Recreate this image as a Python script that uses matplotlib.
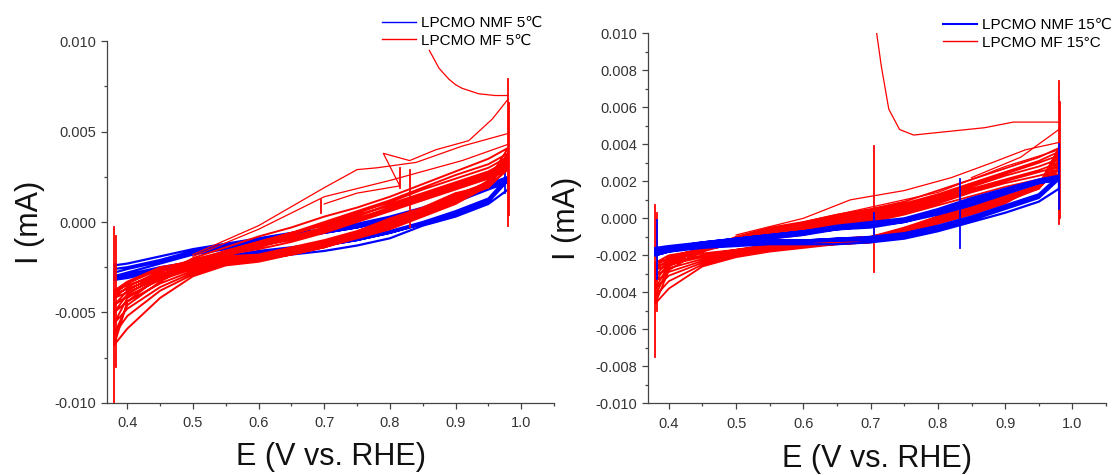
import numpy as np
import matplotlib.pyplot as plt
from matplotlib.lines import Line2D
from matplotlib.ticker import MultipleLocator, FormatStrFormatter

plt.rcParams['font.family'] = ['Liberation Sans', 'DejaVu Sans']
plt.rcParams['axes.unicode_minus'] = False

# potential grid (V vs. RHE), currents below are in 1e-3 mA
E = [0.38, 0.40, 0.45, 0.50, 0.55, 0.60, 0.65, 0.70, 0.75, 0.80, 0.85, 0.90, 0.95, 0.98]

# ---- 5 C ----
mf5_up = [
    [-6.8, -4.4, -3.0, -2.0, -1.4, -0.8, -0.3, 0.3, 0.8, 1.4, 2.1, 2.8, 3.5, 4.1],
    [-6.2, -4.6, -3.3, -2.3, -1.6, -1.1, -0.6, 0.0, 0.6, 1.2, 1.9, 2.6, 3.2, 3.8],
    [-5.6, -4.2, -3.1, -2.2, -1.7, -1.2, -0.7, -0.1, 0.5, 1.1, 1.8, 2.4, 3.0, 3.6],
    [-5.0, -4.0, -2.9, -2.4, -1.9, -1.3, -0.8, -0.3, 0.3, 1.0, 1.6, 2.2, 2.8, 3.4],
    [-4.6, -3.8, -2.8, -2.1, -1.6, -1.1, -0.6, -0.2, 0.4, 0.9, 1.5, 2.1, 2.7, 3.2],
    [-4.2, -3.6, -2.7, -2.3, -1.8, -1.4, -0.9, -0.4, 0.2, 0.8, 1.4, 2.0, 2.6, 3.1],
    [-4.0, -3.4, -2.6, -2.1, -1.7, -1.3, -1.0, -0.5, 0.1, 0.7, 1.3, 1.9, 2.5, 3.0],
    [-3.8, -3.3, -2.5, -2.2, -1.8, -1.5, -1.1, -0.6, 0.0, 0.6, 1.2, 1.8, 2.4, 2.9],
]
mf5_down = [
    [-6.8, -5.9, -4.2, -3.0, -2.4, -2.2, -1.8, -1.4, -0.8, -0.2, 0.5, 1.2, 2.3, 4.1],
    [-6.2, -5.2, -3.8, -2.9, -2.3, -2.1, -1.7, -1.3, -0.8, -0.3, 0.4, 1.1, 2.2, 3.8],
    [-5.6, -4.8, -3.6, -2.8, -2.3, -2.1, -1.8, -1.4, -0.9, -0.4, 0.3, 1.0, 2.0, 3.6],
    [-5.0, -4.4, -3.4, -2.7, -2.2, -2.0, -1.6, -1.2, -0.7, -0.1, 0.5, 1.3, 2.0, 3.4],
    [-4.6, -4.1, -3.2, -2.6, -2.1, -2.0, -1.6, -1.2, -0.7, 0.0, 0.6, 1.4, 2.1, 3.2],
    [-4.2, -3.9, -3.1, -2.5, -2.0, -1.9, -1.5, -1.1, -0.6, 0.1, 0.7, 1.5, 2.2, 3.1],
    [-4.0, -3.7, -3.0, -2.4, -2.0, -1.9, -1.5, -1.1, -0.6, 0.0, 0.6, 1.3, 1.9, 3.0],
    [-3.8, -3.5, -2.9, -2.4, -1.9, -1.8, -1.4, -1.0, -0.5, 0.2, 0.8, 1.6, 2.0, 2.9],
]
nmf5_up = [
    [-2.4, -2.3, -1.9, -1.5, -1.2, -0.9, -0.6, -0.4, -0.1, 0.3, 0.8, 1.4, 2.1, 2.5],
    [-2.6, -2.5, -2.1, -1.6, -1.3, -1.0, -0.7, -0.5, -0.2, 0.2, 0.7, 1.3, 2.0, 2.4],
    [-2.8, -2.6, -2.2, -1.7, -1.4, -1.1, -0.8, -0.6, -0.3, 0.1, 0.6, 1.2, 1.9, 2.3],
    [-3.0, -2.8, -2.3, -1.8, -1.5, -1.2, -0.9, -0.6, -0.3, 0.1, 0.5, 1.1, 1.8, 2.2],
]
nmf5_down = [
    [-3.0, -2.9, -2.5, -2.2, -1.9, -1.6, -1.4, -1.2, -0.9, -0.5, 0.0, 0.6, 1.3, 2.5],
    [-3.1, -3.0, -2.6, -2.3, -2.0, -1.7, -1.5, -1.3, -1.0, -0.6, -0.1, 0.5, 1.2, 2.4],
    [-3.2, -3.0, -2.6, -2.3, -2.0, -1.7, -1.5, -1.3, -1.0, -0.6, -0.1, 0.4, 1.1, 2.3],
    [-3.2, -3.1, -2.7, -2.4, -2.2, -1.9, -1.8, -1.6, -1.3, -0.9, -0.2, 0.3, 1.0, 1.8],
]
# single odd red traces (first sweep etc.)
mf5_extra = [
    ([0.86, 0.875, 0.89, 0.90, 0.91, 0.935, 0.96, 0.98], [9.5, 8.5, 7.9, 7.6, 7.4, 7.1, 7.0, 7.0]),
    ([0.98, 0.956, 0.92, 0.87, 0.83, 0.79, 0.815, 0.75, 0.70], [6.8, 5.7, 4.5, 4.0, 3.4, 3.8, 2.0, 1.6, 1.0]),
    ([0.50, 0.60, 0.70, 0.75, 0.78, 0.84, 0.91, 0.98], [-1.8, -0.2, 1.9, 2.9, 3.0, 3.3, 4.2, 4.9]),
    ([0.50, 0.60, 0.70, 0.80, 0.91, 0.98], [-1.9, -0.4, 1.4, 2.3, 3.4, 4.3]),
]
mf5_spikes = [(0.379, -10.0, -0.3), (0.382, -8.0, -0.8), (0.98, -0.2, 7.9), (0.982, 0.4, 6.6),
              (0.695, 0.5, 1.2), (0.815, 1.9, 3.0), (0.83, -0.3, 2.9)]
nmf5_spikes = [(0.381, -3.2, -2.3), (0.976, 1.6, 2.7)]

# ---- 15 C ----
mf15_up = [
    [-4.6, -2.8, -1.7, -1.0, -0.5, -0.2, 0.2, 0.5, 0.9, 1.5, 2.1, 2.7, 3.3, 3.8],
    [-4.2, -2.6, -1.8, -1.1, -0.6, -0.3, 0.1, 0.4, 0.8, 1.3, 1.9, 2.5, 3.1, 3.6],
    [-3.8, -2.5, -1.6, -1.2, -0.7, -0.4, 0.0, 0.3, 0.7, 1.2, 1.8, 2.4, 3.0, 3.4],
    [-3.4, -2.4, -1.7, -1.3, -0.8, -0.5, -0.1, 0.2, 0.6, 1.1, 1.7, 2.3, 2.8, 3.2],
    [-3.1, -2.3, -1.8, -1.3, -0.9, -0.6, -0.2, 0.1, 0.5, 1.0, 1.6, 2.1, 2.6, 3.0],
    [-2.8, -2.2, -1.7, -1.4, -1.0, -0.7, -0.3, 0.0, 0.4, 0.9, 1.5, 2.0, 2.5, 2.8],
    [-2.6, -2.1, -1.6, -1.3, -0.9, -0.8, -0.4, -0.1, 0.3, 0.8, 1.4, 1.9, 2.3, 2.6],
    [-2.4, -2.0, -1.7, -1.4, -1.1, -0.9, -0.5, -0.2, 0.2, 0.7, 1.2, 1.7, 2.1, 2.4],
]
mf15_down = [
    [-4.6, -3.8, -2.6, -2.1, -1.8, -1.6, -1.4, -1.3, -0.9, -0.3, 0.2, 0.8, 1.8, 3.8],
    [-4.2, -3.4, -2.5, -2.0, -1.7, -1.5, -1.4, -1.3, -0.9, -0.2, 0.3, 0.9, 1.7, 3.6],
    [-3.8, -3.1, -2.4, -2.0, -1.7, -1.5, -1.3, -1.2, -0.8, -0.2, 0.4, 1.0, 1.8, 3.4],
    [-3.4, -2.9, -2.3, -1.9, -1.6, -1.4, -1.3, -1.2, -0.7, -0.1, 0.4, 0.9, 1.6, 3.2],
    [-3.1, -2.7, -2.2, -1.8, -1.6, -1.4, -1.2, -1.1, -0.7, 0.0, 0.5, 1.0, 1.7, 3.0],
    [-2.8, -2.5, -2.1, -1.8, -1.5, -1.3, -1.2, -1.1, -0.6, 0.0, 0.6, 1.1, 1.6, 2.8],
    [-2.6, -2.4, -2.0, -1.7, -1.5, -1.3, -1.1, -1.0, -0.6, 0.1, 0.6, 1.2, 1.7, 2.6],
    [-2.4, -2.2, -1.9, -1.7, -1.4, -1.2, -1.1, -1.0, -0.5, 0.1, 0.7, 1.2, 1.8, 2.4],
]
nmf15_up = [
    [-1.6, -1.5, -1.3, -1.1, -0.9, -0.7, -0.4, -0.2, 0.0, 0.5, 1.1, 1.6, 2.1, 2.3],
    [-1.7, -1.6, -1.3, -1.1, -0.9, -0.7, -0.5, -0.3, -0.1, 0.4, 1.0, 1.5, 2.0, 2.2],
    [-1.8, -1.6, -1.4, -1.2, -1.0, -0.8, -0.5, -0.4, -0.1, 0.3, 0.9, 1.5, 2.0, 2.2],
    [-1.9, -1.7, -1.4, -1.2, -1.0, -0.8, -0.6, -0.4, -0.2, 0.3, 0.8, 1.4, 1.9, 2.1],
    [-2.0, -1.8, -1.5, -1.3, -1.1, -0.9, -0.6, -0.5, -0.2, 0.2, 0.7, 1.3, 1.9, 2.1],
]
nmf15_down = [
    [-1.7, -1.6, -1.4, -1.3, -1.2, -1.2, -1.1, -1.0, -0.8, -0.4, 0.1, 0.7, 1.3, 2.3],
    [-1.8, -1.6, -1.5, -1.3, -1.2, -1.2, -1.1, -1.1, -0.9, -0.5, 0.0, 0.6, 1.2, 2.2],
    [-1.8, -1.7, -1.5, -1.4, -1.3, -1.2, -1.2, -1.1, -0.9, -0.5, 0.0, 0.6, 1.2, 2.2],
    [-1.9, -1.7, -1.5, -1.4, -1.3, -1.3, -1.2, -1.2, -1.0, -0.6, -0.1, 0.5, 1.1, 2.1],
    [-2.0, -1.8, -1.6, -1.5, -1.4, -1.4, -1.4, -1.3, -1.1, -0.7, -0.2, 0.3, 0.9, 1.6],
]
mf15_extra = [
    ([0.709, 0.716, 0.727, 0.743, 0.764, 0.79, 0.817, 0.87, 0.912, 0.95, 0.98],
     [10.0, 8.2, 5.9, 4.8, 4.5, 4.6, 4.7, 4.9, 5.2, 5.2, 5.2]),
    ([0.50, 0.60, 0.67, 0.75, 0.82, 0.88, 0.93, 0.98], [-0.9, 0.0, 1.0, 1.5, 2.2, 3.0, 3.7, 4.1]),
    ([0.50, 0.60, 0.70, 0.80, 0.90, 0.98], [-1.0, -0.2, 0.6, 1.4, 2.8, 3.7]),
    ([0.85, 0.923, 0.98], [2.2, 3.3, 4.8]),
]
mf15_spikes = [(0.379, -7.5, 0.7), (0.382, -5.0, 0.3), (0.705, -2.9, 3.9), (0.98, -0.3, 7.4), (0.982, 0.0, 6.3)]
nmf15_spikes = [(0.382, -3.3, -0.1), (0.833, -1.6, 2.1), (0.705, -1.3, 0.3), (0.98, 0.5, 4.0)]


def draw_cycles(ax, up, down, color, lw, z):
    xs, ys = [], []
    for a, c in zip(up, down):
        xs += E + E[::-1]
        ys += a + c[::-1]
    ax.plot(xs, np.array(ys) / 1000, color=color, lw=lw, zorder=z)


def draw_extra(ax, traces, spikes, color, z):
    for ex, iy in traces:
        ax.plot(ex, np.array(iy) / 1000, color=color, lw=0.9, zorder=z)
    for e, lo, hi in spikes:
        ax.plot([e, e], [lo / 1000, hi / 1000], color=color, lw=1.3, zorder=z)


def style(ax, major, minor):
    ax.set_xlim(0.369, 1.05)
    ax.set_ylim(-0.010, 0.010)
    for s in ['top', 'right']:
        ax.spines[s].set_visible(False)
    for s in ['left', 'bottom']:
        ax.spines[s].set_color('#444444')
        ax.spines[s].set_linewidth(0.9)
    ax.xaxis.set_major_locator(MultipleLocator(0.1))
    ax.xaxis.set_minor_locator(MultipleLocator(0.05))
    ax.yaxis.set_major_locator(MultipleLocator(major))
    ax.yaxis.set_minor_locator(MultipleLocator(minor))
    ax.xaxis.set_major_formatter(FormatStrFormatter('%.1f'))
    ax.yaxis.set_major_formatter(FormatStrFormatter('%.3f'))
    ax.tick_params(which='major', direction='out', length=4.5, width=0.9, color='#444444',
                   labelsize=10.5, labelcolor='#333333', pad=3)
    ax.tick_params(axis='x', which='major', pad=5)
    ax.tick_params(which='minor', direction='out', length=2.5, width=0.9, color='#444444')
    ax.set_xlabel('E (V vs. RHE)', fontsize=22, color='#111111')
    ax.set_ylabel('I (mA)', fontsize=22, color='#111111')
    ax.xaxis.set_label_coords(0.5, -0.110)


fig = plt.figure(figsize=(11.17, 4.75), dpi=100)
ax1 = fig.add_axes([0.0958, 0.1522, 0.4002, 0.7608])
ax2 = fig.add_axes([0.5801, 0.1509, 0.4101, 0.7790])

# left: red on top
draw_cycles(ax1, nmf5_up, nmf5_down, 'blue', 1.6, 2)
draw_extra(ax1, [], nmf5_spikes, 'blue', 2)
draw_cycles(ax1, mf5_up, mf5_down, 'red', 1.4, 3)
draw_extra(ax1, mf5_extra, mf5_spikes, 'red', 3)
style(ax1, 0.005, 0.0025)
ax1.yaxis.set_label_coords(-0.139, 0.5)

# right: blue on top
draw_cycles(ax2, mf15_up, mf15_down, 'red', 1.3, 2)
draw_extra(ax2, mf15_extra, mf15_spikes, 'red', 2)
draw_cycles(ax2, nmf15_up, nmf15_down, 'blue', 1.6, 3)
draw_extra(ax2, [], nmf15_spikes, 'blue', 3)
style(ax2, 0.002, 0.001)
ax2.yaxis.set_label_coords(-0.144, 0.5)

leg_kw = dict(loc='upper left', frameon=False, fontsize=11, handlelength=2.2,
              handletextpad=0.35, labelspacing=0.25, borderpad=0, borderaxespad=0)
fig.legend([Line2D([], [], color='blue', lw=1.0), Line2D([], [], color='red', lw=1.0)],
           ['LPCMO NMF 5℃', 'LPCMO MF 5℃'], bbox_to_anchor=(382 / 1117, 1 - 16 / 475), **leg_kw)
fig.legend([Line2D([], [], color='blue', lw=1.5), Line2D([], [], color='red', lw=1.0)],
           ['LPCMO NMF 15℃', 'LPCMO MF 15°C'], bbox_to_anchor=(943 / 1117, 1 - 18 / 475), **leg_kw)

fig.savefig('out.png', dpi=100)
